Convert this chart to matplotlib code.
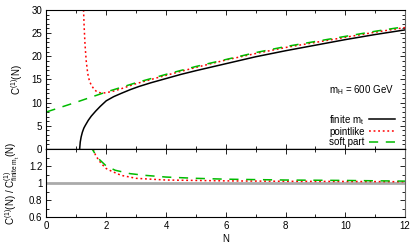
import matplotlib
matplotlib.use("Agg")
import matplotlib.pyplot as plt
from matplotlib.ticker import MultipleLocator, FuncFormatter

plt.rcParams['font.family'] = ['Liberation Sans', 'DejaVu Sans']
plt.rcParams['mathtext.fontset'] = 'custom'
plt.rcParams['mathtext.rm'] = 'Liberation Sans'
plt.rcParams['mathtext.it'] = 'Liberation Sans'
plt.rcParams['font.size'] = 7

# ---- data ----
n_finite = [1.11, 1.13, 1.16, 1.2, 1.25, 1.3, 1.4, 1.5, 1.65, 1.8, 2.0, 2.25, 2.5, 2.8,
            3.1, 3.5, 4, 4.5, 5, 6, 7, 8, 9, 10, 11, 12]
c_finite = [0, 1.5, 2.6, 3.6, 4.5, 5.1, 6.2, 7.1, 8.2, 9.2, 10.4, 11.3, 12.0, 12.8,
            13.5, 14.3, 15.2, 16.1, 16.9, 18.4, 19.9, 21.2, 22.4, 23.6, 24.7, 25.7]

n_point = [1.235, 1.26, 1.29, 1.33, 1.38, 1.44, 1.5, 1.6, 1.7, 1.85, 2.0, 2.25, 2.5,
           3, 3.5, 4, 5, 6, 7, 8, 9, 10, 11, 12]
c_point = [31, 26.5, 22.5, 19.0, 16.3, 14.6, 13.8, 12.8, 12.3, 12.05, 12.15, 12.5, 13.0,
           14.1, 15.0, 15.9, 17.6, 19.2, 20.6, 21.9, 23.0, 24.1, 25.2, 26.2]

n_soft = [0, 1, 2, 2.5, 3, 3.5, 4, 5, 6, 7, 8, 9, 10, 11, 12]
c_soft = [8.0, 10.1, 12.3, 13.3, 14.3, 15.2, 16.1, 17.8, 19.3, 20.8, 22.1, 23.2, 24.3, 25.4, 26.4]

n_ratio_point = [1.53, 1.56, 1.65, 1.83, 2.0, 2.17, 2.5, 3, 4, 5, 6, 8, 10, 12]
r_point = [1.45, 1.40, 1.32, 1.23, 1.17, 1.14, 1.09, 1.055, 1.035, 1.03, 1.025, 1.02, 1.018, 1.015]

n_ratio_soft = [1.5, 1.53, 1.7, 2.0, 2.3, 2.8, 3.3, 4, 5, 6, 7, 8, 10, 12]
r_soft = [1.45, 1.40, 1.30, 1.20, 1.15, 1.11, 1.09, 1.07, 1.055, 1.045, 1.04, 1.035, 1.03, 1.022]

mh_label = r"m$_{\rm H}$ = 600 GeV"
labels = [r"finite m$_{\rm t}$", "pointlike", "soft part"]

# ---- figure ----
fig = plt.figure(figsize=(4.15, 2.49), dpi=100)
ax1 = fig.add_axes([0.112, 0.4016, 0.864, 0.5584])
ax2 = fig.add_axes([0.112, 0.1285, 0.864, 0.2731])

red = '#ff0000'
green = '#00bb00'

l1, = ax1.plot(n_finite, c_finite, color='black', lw=1.1)
l2, = ax1.plot(n_point, c_point, color=red, lw=1.1, ls=(0, (1.2, 1.8)))
l3, = ax1.plot(n_soft, c_soft, color=green, lw=1.1, ls=(0, (6, 5)))

ax1.set_xlim(0, 12)
ax1.set_ylim(0, 30)
ax1.xaxis.set_major_locator(MultipleLocator(2))
ax1.xaxis.set_minor_locator(MultipleLocator(1))
ax1.yaxis.set_major_locator(MultipleLocator(5))
ax1.yaxis.set_minor_locator(MultipleLocator(1))
ax1.tick_params(labelbottom=False)
ax1.set_ylabel(r"C$^{(1)}$(N)", labelpad=5)

ax1.text(0.969, 0.424, mh_label, transform=ax1.transAxes, ha='right', va='center')
leg = ax1.legend([l1, l2, l3], labels, loc='lower right', bbox_to_anchor=(0.99, -0.035),
                 frameon=False, markerfirst=False, handlelength=2.6, handletextpad=0.5,
                 labelspacing=0.02, borderpad=0.2)

ax2.axhline(1.0, color='#aaaaaa', lw=2)
ax2.plot(n_ratio_point, r_point, color=red, lw=1.1, ls=(0, (1.2, 1.8)))
ax2.plot(n_ratio_soft, r_soft, color=green, lw=1.1, ls=(0, (6, 5)))
ax2.set_xlim(0, 12)
ax2.set_ylim(0.6, 1.4)
ax2.xaxis.set_major_locator(MultipleLocator(2))
ax2.xaxis.set_minor_locator(MultipleLocator(1))
ax2.yaxis.set_major_locator(MultipleLocator(0.2))
ax2.yaxis.set_minor_locator(MultipleLocator(0.1))
ax2.yaxis.set_major_formatter(FuncFormatter(
    lambda v, p: '' if v > 1.3 else ('%g' % round(v, 2))))
ax2.set_xlabel("N", labelpad=2)
ax2.set_ylabel(r"C$^{(1)}$(N) / C$^{(1)}_{\rm finite\ m_t}$(N)", labelpad=5)

for ax in (ax1, ax2):
    ax.tick_params(which='both', direction='in', top=True, right=True, width=0.6)
    ax.tick_params(which='major', length=3.5, pad=3)
    ax.tick_params(which='minor', length=2)
    for s in ax.spines.values():
        s.set_linewidth(0.8)
    ax.spines['right'].set_color('#666666')

ax1.spines['bottom'].set_linewidth(1.0)

fig.align_ylabels([ax1, ax2])
fig.savefig("out.png", dpi=100)
